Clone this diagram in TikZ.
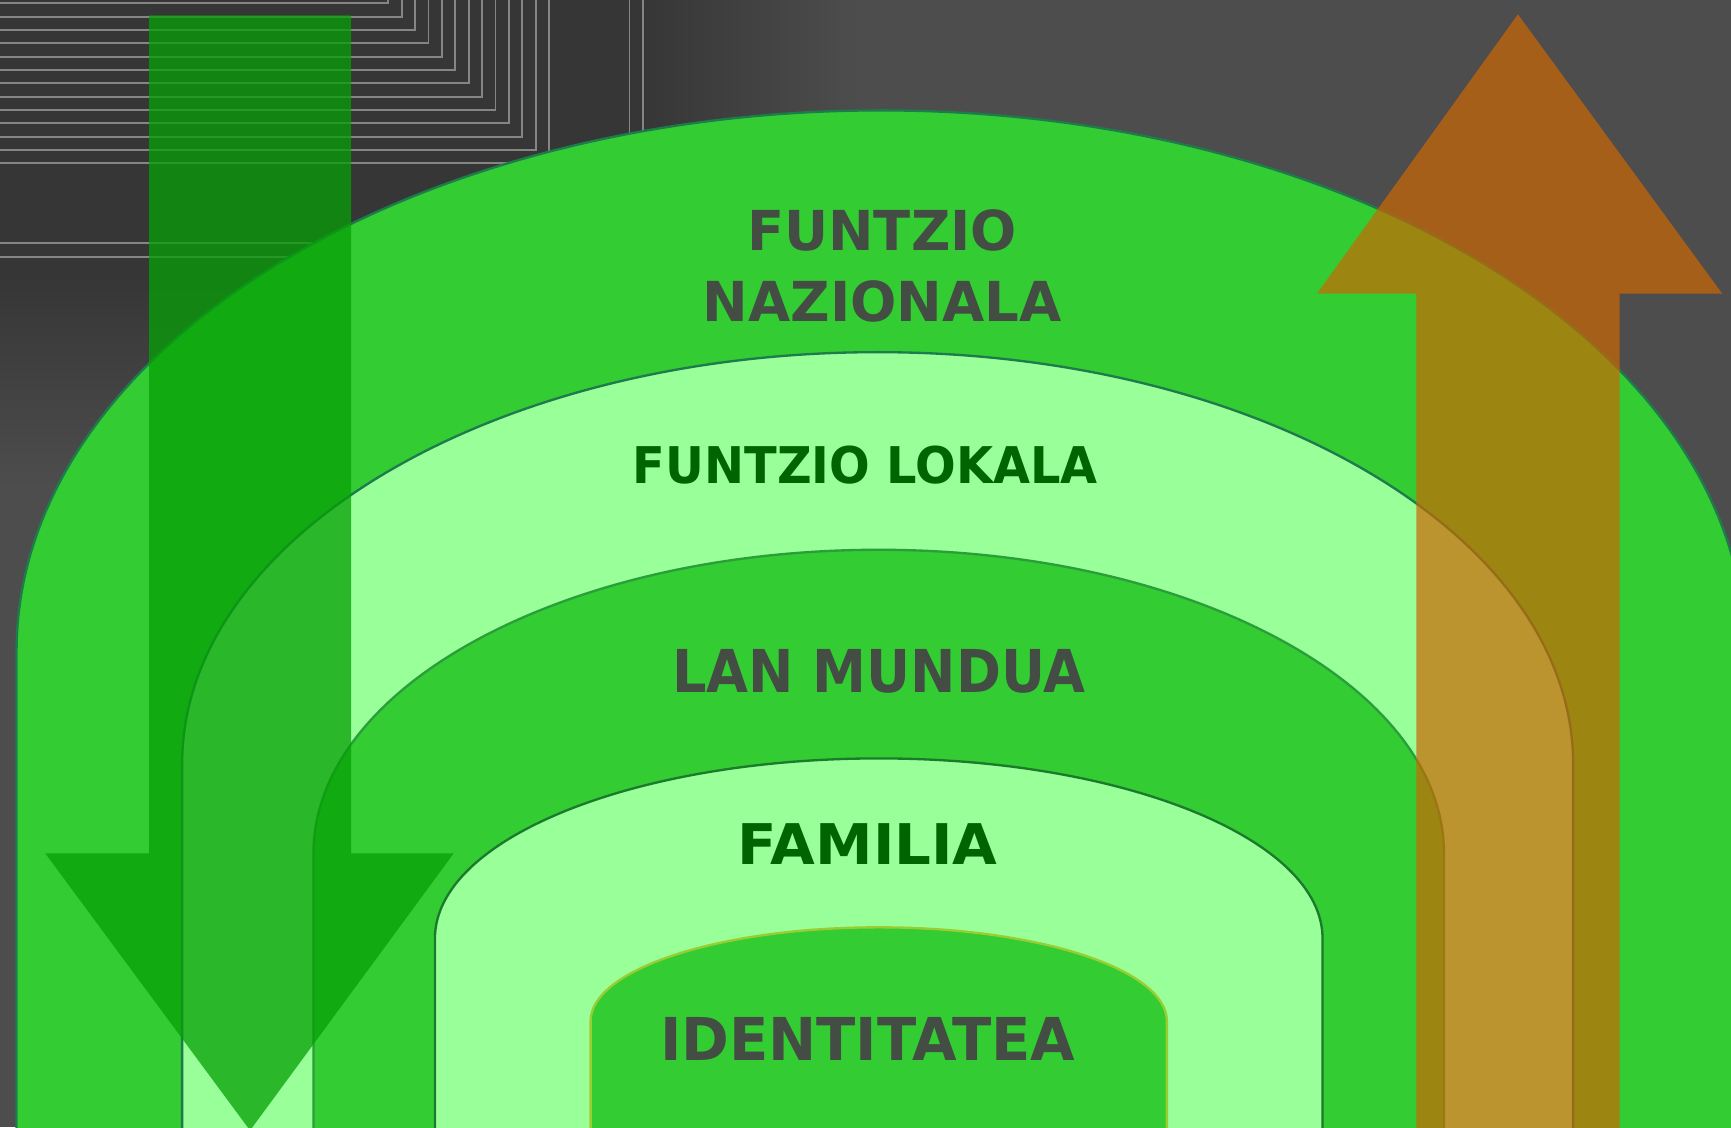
\documentclass[tikz,border=0pt]{standalone}
\usepackage{fontspec}
\setmainfont{DejaVu Sans}
\usepackage{graphicx}
\usetikzlibrary{shadings}
\definecolor{bgcol}{HTML}{4D4D4D}
\definecolor{darkcol}{HTML}{363636}
\definecolor{linecol}{HTML}{858585}
\definecolor{midgreen}{HTML}{33CC33}
\definecolor{lightgreen}{HTML}{99FF99}
\definecolor{edgeteal}{HTML}{1E7B4B}
\definecolor{edgegreen}{HTML}{1B7A2B}
\definecolor{edgesoft}{HTML}{2A9E3A}
\definecolor{edgeyellow}{HTML}{9ACD32}
\definecolor{arrowgreen}{RGB}{6,159,6}
\definecolor{arroworange}{RGB}{203,103,3}
\definecolor{txtgray}{HTML}{434D43}
\definecolor{txtgreen}{HTML}{006400}
\newcommand{\archband}[5]{%
  \path[#5] ({#1-#3},1100) -- ({#1-#3},#2)
    .. controls ({#1-#3},{#2-0.5523*#4}) and ({#1-0.5523*#3},{#2-#4}) .. (#1,{#2-#4})
    .. controls ({#1+0.5523*#3},{#2-#4}) and ({#1+#3},{#2-0.5523*#4}) .. ({#1+#3},#2)
    -- ({#1+#3},1100) -- cycle;}
\tikzset{
  lbl/.style={inner sep=0pt, outer sep=0pt, anchor=center},
  gridline/.style={draw=linecol, line width=0.45pt},
  bandedge/.style={line width=0.6pt},
}
\begin{document}
\begin{tikzpicture}[x=0.01cm, y=-0.01cm]
\useasboundingbox (0,0) rectangle (1568,1021);
\clip (0,0) rectangle (1568,1021);
% background
\fill[bgcol] (0,0) rectangle (1568,1021);
\fill[darkcol] (0,0) rectangle (580,250);
\shade[left color=darkcol, right color=bgcol] (580,0) rectangle (780,250);
\shade[top color=darkcol, bottom color=bgcol] (0,250) rectangle (580,440);
\shade[upper left=darkcol, upper right=bgcol, lower left=bgcol, lower right=bgcol] (580,250) rectangle (780,440);
% line pattern
\foreach \i in {0,...,12} {
  \draw[gridline] (0,{3+12.08*\i}) -- ({351.8+12.13*\i},{3+12.08*\i}) -- ({351.8+12.13*\i},0);
}
\draw[gridline] (0,220.4) -- (570.2,220.4) -- (570.2,0);
\draw[gridline] (0,232.5) -- (582.3,232.5) -- (582.3,0);
% bands
\archband{798}{590}{783}{490}{fill=midgreen, draw=edgeteal, bandedge}
\archband{795}{692}{630}{373}{fill=lightgreen, draw=edgeteal, bandedge}
\archband{796}{773}{512}{275}{fill=midgreen, draw=edgesoft, bandedge}
\archband{796}{850}{402}{163}{fill=lightgreen, draw=edgegreen, bandedge}
\archband{796}{925}{261}{85}{fill=midgreen, draw=edgeyellow, bandedge}
% labels
\node[lbl, text=txtgray] (fn1) at (799,208.5) {\resizebox{2.44cm}{0.37cm}{\bfseries FUNTZIO}};
\node[lbl, text=txtgray] (fn2) at (799,273.5) {\resizebox{3.25cm}{0.37cm}{\bfseries NAZIONALA}};
\node[lbl, text=txtgreen] (fl) at (784,421) {\resizebox{4.21cm}{0.34cm}{\bfseries FUNTZIO LOKALA}};
\node[lbl, text=txtgray] (lm) at (796,608.5) {\resizebox{3.74cm}{0.39cm}{\bfseries LAN MUNDUA}};
\node[lbl, text=txtgreen] (fa) at (786,764.5) {\resizebox{2.35cm}{0.37cm}{\bfseries FAMILIA}};
\node[lbl, text=txtgray] (id) at (786,941.5) {\resizebox{3.76cm}{0.39cm}{\bfseries IDENTITATEA}};
% arrows
\fill[arrowgreen, fill opacity=0.75] (135,14) -- (318,14) -- (318,773) -- (411,773) -- (226.5,1024) -- (41,773) -- (135,773) -- cycle;
\fill[arroworange, fill opacity=0.7] (1283,1030) -- (1283,266) -- (1193,266) -- (1375,13) -- (1560,266) -- (1467,266) -- (1467,1030) -- cycle;
\end{tikzpicture}
\end{document}
